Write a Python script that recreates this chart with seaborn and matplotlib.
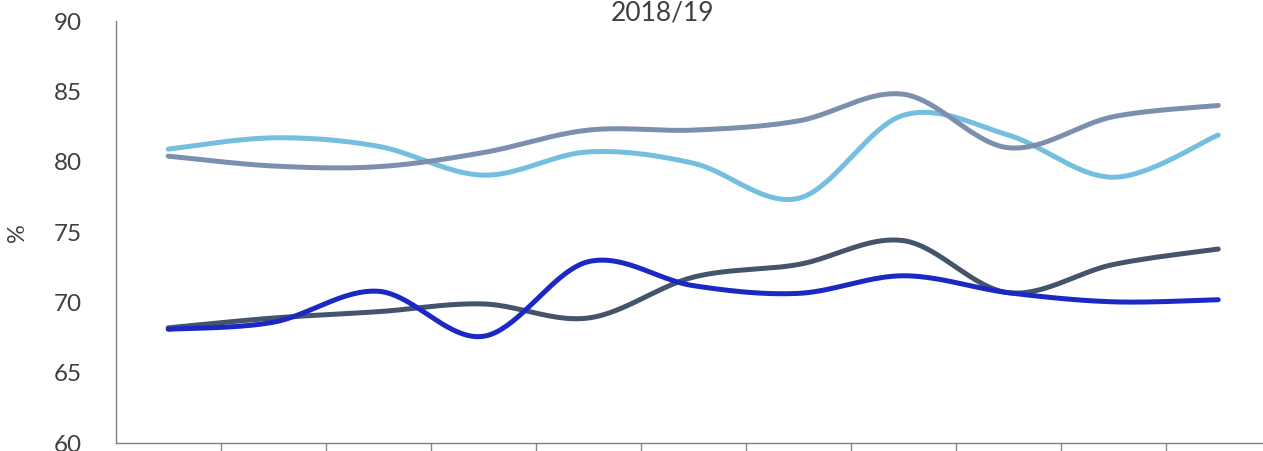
import numpy as np
import pandas as pd
import matplotlib
matplotlib.use("Agg")
import matplotlib.pyplot as plt
import seaborn as sns

# ---- data ----
categories = [str(i) for i in range(1, 12)]
series_names = ["Series A", "Series B", "Series C", "Series D"]
light_blue = [80.9, 81.7, 81.1, 79.05, 80.7, 79.9, 77.4, 83.3, 81.9, 78.9, 81.9]
grey_blue = [80.4, 79.7, 79.65, 80.65, 82.25, 82.25, 82.9, 84.8, 81.0, 83.2, 84.0]
dark_slate = [68.2, 68.9, 69.35, 69.9, 68.9, 71.8, 72.7, 74.4, 70.7, 72.7, 73.8]
blue = [68.1, 68.6, 70.8, 67.6, 72.9, 71.2, 70.65, 71.9, 70.7, 70.05, 70.2]
title = "2018/19"
y_label = "%"
y_ticks = [60, 65, 70, 75, 80, 85, 90]

colors = ["#74BEE0", "#7C8FAF", "#44546A", "#1C28C4"]


def smooth(xs, ys, n=40):
    """Excel-style smoothed line: cubic Bezier with Catmull-Rom control points."""
    xs = np.asarray(xs, float)
    ys = np.asarray(ys, float)
    P = np.column_stack([xs, ys])
    out = []
    for i in range(len(P) - 1):
        p0 = P[i - 1] if i > 0 else P[i]
        p1 = P[i]
        p2 = P[i + 1]
        p3 = P[i + 2] if i + 2 < len(P) else P[i + 1]
        c1 = p1 + (p2 - p0) / 6.0
        c2 = p2 - (p3 - p1) / 6.0
        t = np.linspace(0, 1, n, endpoint=(i == len(P) - 2))[:, None]
        seg = ((1 - t) ** 3) * p1 + 3 * ((1 - t) ** 2) * t * c1 + 3 * (1 - t) * t ** 2 * c2 + t ** 3 * p2
        out.append(seg)
    out = np.vstack(out)
    return out[:, 0], out[:, 1]


rows = []
x_pos = np.arange(len(categories))
for name, vals in zip(series_names, [light_blue, grey_blue, dark_slate, blue]):
    sx, sy = smooth(x_pos, vals)
    for k, (a, b) in enumerate(zip(sx, sy)):
        rows.append({"series": name, "x": a, "y": b, "order": k})
df = pd.DataFrame(rows)

sns.set_theme(style="white")
plt.rcParams["font.family"] = ["Lato", "DejaVu Sans"]
text_color = "#404040"

fig = plt.figure(figsize=(12.63, 4.51), dpi=100)
W, H = 1263, 451
left_px, right_px, top_px, bottom_px = 115.7, 1270.7, 21.0, 443.3
ax = fig.add_axes([left_px / W, (H - bottom_px) / H, (right_px - left_px) / W, (bottom_px - top_px) / H])

sns.lineplot(data=df, x="x", y="y", hue="series", palette=dict(zip(series_names, colors)),
             sort=False, estimator=None, units="series", legend=False, linewidth=3.6,
             solid_capstyle="round", ax=ax)

ax.set_xlim(-0.5, len(categories) - 0.5)
ax.set_ylim(60, 90)
ax.set_yticks(y_ticks)
ax.set_yticklabels([str(v) for v in y_ticks], fontsize=17.5, color=text_color)
ax.set_xticks(np.arange(0.5, len(categories) - 0.5, 1.0))
ax.set_xticklabels([])
ax.tick_params(axis="x", which="both", bottom=True, length=7, width=1, color="#888888", direction="out")
ax.tick_params(axis="y", length=0, pad=24)
ax.set_xlabel("")
ax.set_ylabel(y_label, fontsize=17, color=text_color, labelpad=0)
ax.yaxis.set_label_coords(-(left_px - 28) / (right_px - left_px), 0.5)

for s in ["top", "right"]:
    ax.spines[s].set_visible(False)
for s in ["left", "bottom"]:
    ax.spines[s].set_color("#808080")
    ax.spines[s].set_linewidth(1.0)

fig.text(663 / W, 1 - 20 / H, title, ha="center", va="baseline", fontsize=19, color=text_color)

fig.savefig("out.png", dpi=100)
